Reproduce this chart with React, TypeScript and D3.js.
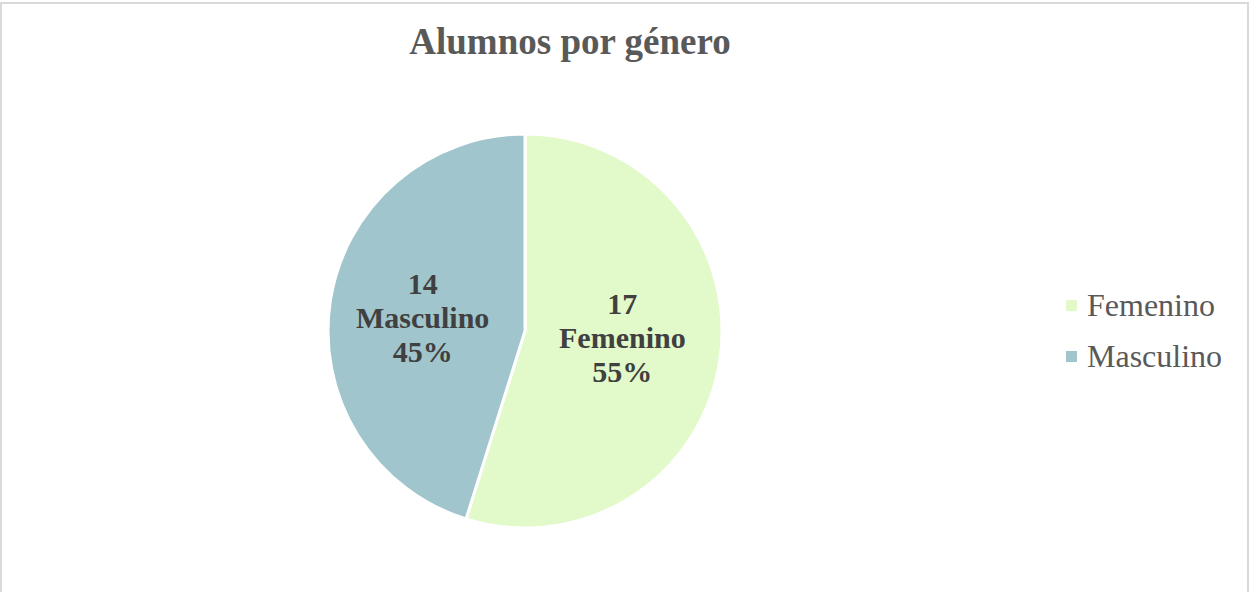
import React from "react";
import * as d3 from "d3";

const categories = ["Femenino", "Masculino"];
const values = [17, 14];
const colors = ["#E2F9C9", "#A1C5CC"];
const title = "Alumnos por género";

const W = 1249;
const H = 592;
const FONT = "'Liberation Serif', 'Times New Roman', serif";
const labelNudge = [
  [0, -8],
  [-5, 2],
];

export default function App() {
  const cx = 525;
  const cy = 331;
  const r = 197;
  const total = d3.sum(values);
  const pie = d3.pie<number>().sort(null).value((d) => d);
  const arcs = pie(values);
  const arcGen = d3.arc<d3.PieArcDatum<number>>().innerRadius(0).outerRadius(r);
  const labelArc = d3.arc<d3.PieArcDatum<number>>().innerRadius(r * 0.5).outerRadius(r * 0.5);
  const legendY = d3.scalePoint<string>().domain(categories).range([306, 357]);

  return (
    <svg width={W} height={H} style={{ position: "absolute", left: 0, top: 0 }}>
      <rect x={0} y={0} width={W} height={H} fill="#fff" />
      <path d={`M1,${H} L1,3 L1248,3 L1248,${H}`} fill="none" stroke="#d9d9d9" strokeWidth={2} />
      <text x={570} y={54} textAnchor="middle" fontFamily={FONT} fontWeight="bold" fontSize={37} fill="#595959">
        {title}
      </text>
      <g transform={`translate(${cx},${cy})`}>
        {arcs.map((a, i) => (
          <path key={i} d={arcGen(a) || ""} fill={colors[i]} stroke="#fff" strokeWidth={3} />
        ))}
        {arcs.map((a, i) => {
          const [x0, y0] = labelArc.centroid(a);
          const x = x0 + labelNudge[i][0];
          const y = y0 + labelNudge[i][1];
          const pct = Math.round((values[i] / total) * 100) + "%";
          return (
            <text key={"l" + i} x={x} y={y} textAnchor="middle" fontFamily={FONT} fontWeight="bold" fontSize={30} fill="#404040">
              <tspan x={x} dy={-24}>{values[i]}</tspan>
              <tspan x={x} dy={34}>{categories[i]}</tspan>
              <tspan x={x} dy={34}>{pct}</tspan>
            </text>
          );
        })}
      </g>
      {categories.map((c, i) => (
        <g key={c}>
          <rect x={1066} y={(legendY(c) || 0) - 6} width={11} height={11} fill={colors[i]} />
          <text x={1087} y={(legendY(c) || 0) + 10} fontFamily={FONT} fontSize={32} fill="#595959">
            {c}
          </text>
        </g>
      ))}
    </svg>
  );
}
